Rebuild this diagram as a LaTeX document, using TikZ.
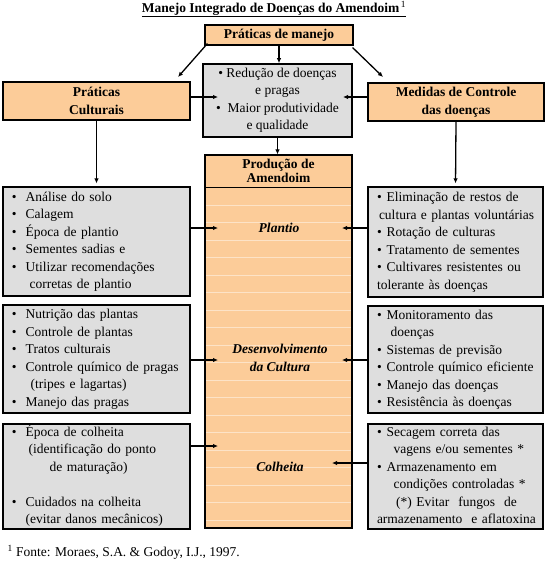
\documentclass[tikz,border=0pt]{standalone}
\usepackage{fontspec}
\setmainfont{Liberation Serif}
\usetikzlibrary{arrows.meta}
\definecolor{pessego}{RGB}{252,204,153}
\definecolor{cinza}{RGB}{222,222,222}
\tikzset{
  caixa/.style={draw, line width=1.2pt, fill=pessego, align=center, inner sep=0pt},
  lista/.style={draw, line width=1.2pt, fill=cinza, inner xsep=9pt, inner ysep=0pt, align=left},
  seta/.style={line width=1.3pt, -{Latex[length=5pt,width=4.5pt]}}
}
\newcommand{\bl}{\textbullet}
\newcommand{\itens}[1]{\begin{tabular}{@{}l@{\hspace{9pt}}l@{}}#1\end{tabular}}
\newcommand{\itensd}[1]{\begin{tabular}{@{}l@{\hspace{5pt}}l@{}}#1\end{tabular}}
\begin{document}
\begin{tikzpicture}[x=1pt, y=-1pt, every node/.style={font=\fontsize{13.5}{17.5}\selectfont}]
            \useasboundingbox (0,0) rectangle (550,570);
            % titulo
            \node (titulo) at (274,9) {\underline{\textbf{Manejo Integrado de Doenças do Amendoim}\textsuperscript{\,1}}};
            % caixas do topo
            \node[caixa, minimum width=148pt, minimum height=20pt] (manejo) at (279,35) {\textbf{Práticas de manejo}};
            \node[lista, fill=cinza, line width=1.6pt, align=center, minimum width=149pt, minimum height=73pt] (objetivos) at (277.5,100.5)
              {\bl\ Redução de doenças\\ e pragas\\ \bl\ \ Maior produtividade\\ e qualidade};
            \node[caixa, minimum width=187pt, minimum height=38pt] (culturais) at (96.5,101) {\textbf{Práticas}\\ \textbf{Culturais}};
            \node[caixa, minimum width=176pt, minimum height=38pt] (medidas) at (456,102) {\textbf{Medidas de Controle}\\ \textbf{das doenças}};
            % coluna central
            \node[caixa, minimum width=147pt, minimum height=373pt] (producao) at (278.5,341.5) {};
            \foreach \y in {205,222.5,...,520}
              \draw[white, opacity=.45, line width=.4pt] (206,\y) -- (351,\y);
            \draw[line width=1pt] (producao.west |- 0,187) -- (producao.east |- 0,187);
            \node[font=\fontsize{13.5}{13.5}\selectfont, align=center] (cabecalho) at (278.5,171) {\textbf{Produção de}\\ \textbf{Amendoim}};
            \node (plantio) at (279,228) {\textbf{\textit{Plantio}}};
            \node[align=center] (desenv) at (280,358) {\textbf{\textit{Desenvolvimento}}\\ \textbf{\textit{da Cultura}}};
            \node (colheita) at (280,467) {\textbf{\textit{Colheita}}};
            % praticas culturais
            \node[lista, minimum width=187pt, minimum height=109pt, text width=169pt] (culturas1) at (96.5,241.5)
              {\itens{\bl & Análise do solo\\ \bl & Calagem\\ \bl & Época de plantio\\ \bl & Sementes sadias e\\
                \bl & Utilizar recomendações\\ & \hspace{4pt}corretas de plantio}};
            \node[lista, minimum width=187pt, minimum height=108pt, text width=169pt] (culturas2) at (96.5,359)
              {\itens{\bl & Nutrição das plantas\\ \bl & Controle de plantas\\ \bl & Tratos culturais\\
                \bl & Controle químico de pragas\\ & \hspace{5pt}(tripes e lagartas)\\ \bl & Manejo das pragas}};
            \node[lista, minimum width=187pt, minimum height=103pt, text width=169pt] (culturas3) at (96.5,476.5)
              {\itens{\bl & Época de colheita\\ & \hspace{3pt}(identificação do ponto\\ & \hspace{24pt}de maturação)\\ & \\
                \bl & Cuidados na colheita\\ & (evitar danos mecânicos)}};
            % medidas de controle
            \node[lista, minimum width=175pt, minimum height=110pt, text width=157pt] (controle1) at (455.5,242)
              {\itensd{\bl & Eliminação de restos de\\ \multicolumn{2}{@{}l@{}}{\hspace{2pt}cultura e plantas voluntárias}\\
                \bl & Rotação de culturas\\ \bl & Tratamento de sementes\\ \bl & Cultivares resistentes ou\\
                \multicolumn{2}{@{}l@{}}{tolerante às doenças}}};
            \node[lista, minimum width=175pt, minimum height=107pt, text width=157pt] (controle2) at (455.5,359.5)
              {\itensd{\bl & Monitoramento das\\ & \hspace{4pt}doenças\\ \bl & Sistemas de previsão\\
                \bl & Controle químico eficiente\\ \bl & Manejo das doenças\\ \bl & Resistência às doenças}};
            \node[lista, minimum width=175pt, minimum height=103pt, text width=157pt] (controle3) at (455.5,476.5)
              {\itensd{\bl & Secagem correta das\\ & \hspace{7pt}vagens e/ou sementes *\\ \bl & Armazenamento em\\
                & \hspace{7pt}condições controladas *\\
                \multicolumn{2}{@{}c@{}}{(*)~Evitar\ \ fungos\ \ de}\\ \multicolumn{2}{@{}c@{}}{armazenamento\ \ e aflatoxina}}};
            % pontas das setas
            \coordinate (pe1) at (178,77);
            \coordinate (pd1) at (383,77);
            \coordinate (pe2) at (218,97);
            \coordinate (pd2) at (343,97);
            \coordinate (pe3) at (218,228);
            \coordinate (pd3) at (342,228);
            \coordinate (pe4) at (218,360);
            \coordinate (pd4) at (342,360);
            \coordinate (pe5) at (218,446);
            \coordinate (pd5) at (332,463);
            % setas
            \draw[seta] ([shift={(3,-2)}]manejo.south west) -- (pe1);
            \draw[seta] ([shift={(-1,2)}]manejo.south east) -- (pd1);
            \draw[seta] (manejo.south) -- (manejo.south |- objetivos.north);
            \draw[seta] (culturais.east |- pe2) -- (pe2);
            \draw[seta] (medidas.west |- pd2) -- (pd2);
            \draw[seta, shorten >=3pt] (culturais.south) -- (culturas1.north);
            \draw[seta, shorten >=3pt] (medidas.south) -- (controle1.north);
            \draw[seta] (objetivos.south) -- (objetivos.south |- producao.north);
            \draw[seta] (culturas1.east |- pe3) -- (pe3);
            \draw[seta] (controle1.west |- pd3) -- (pd3);
            \draw[seta] (culturas2.east |- pe4) -- (pe4);
            \draw[seta] (controle2.west |- pd4) -- (pd4);
            \draw[seta] (culturas3.east |- pe5) -- (pe5);
            \draw[seta] (controle3.west |- pd5) -- (pd5);
            % fonte
            \node[anchor=west] (fonte) at (4,552) {\textsuperscript{1} Fonte: Moraes, S.A. \& Godoy, I.J., 1997.};
        \end{tikzpicture}
\end{document}
